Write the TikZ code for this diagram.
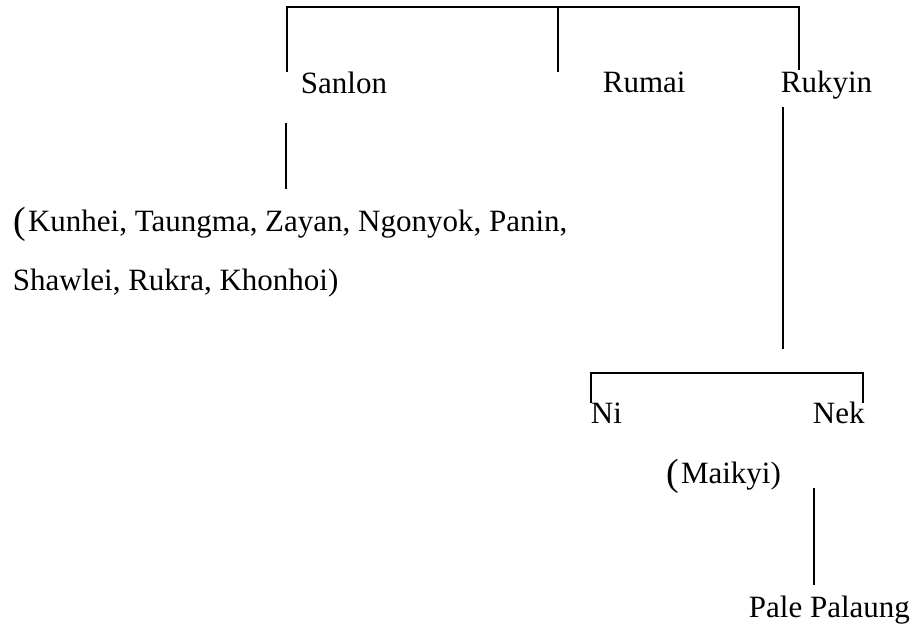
\documentclass[tikz,border=0pt]{standalone}
\usepackage{fontspec}
\setmainfont{Liberation Serif}
\newcommand{\bigparen}{{\fontsize{38}{38}\selectfont\raisebox{-2pt}{(}}\hspace{1.5pt}}
\begin{document}
\begin{tikzpicture}[x=1pt,y=-1pt,line width=1.8pt,
    lang/.style={anchor=base west,inner sep=0pt,font=\fontsize{31}{37}\selectfont}]
    \useasboundingbox (0,0) rectangle (914,630);

    % top level
    \node[lang] (sanlon) at (300,93) {Sanlon};
    \node[lang] (rumai) at (602,92) {Rumai};
    \node[lang] (rukyin) at (780,92) {Rukyin};
    \coordinate (sanlontop) at (287,72);
    \coordinate (rumaitop) at (558,72);
    \coordinate (rukyintop) at (799,70);
    \draw (sanlontop) -- (sanlontop |- 0,7) -- (rukyintop |- 0,7) -- (rukyintop);
    \draw (rumaitop) -- (rumaitop |- 0,7);

    % Sanlon group
    \node[lang] (kunhei) at (13,231) {\bigparen Kunhei, Taungma, Zayan, Ngonyok, Panin,};
    \node[lang] (shawlei) at (12,290) {Shawlei, Rukra, Khonhoi)};
    \coordinate (sanlonbot) at (286,123);
    \coordinate (kunheitop) at (286,189);
    \draw (sanlonbot) -- (kunheitop);

    % Rukyin group
    \coordinate (rukyinbot) at (783,107);
    \coordinate (nibar) at (783,349);
    \draw (rukyinbot) -- (nibar);
    \node[lang] (ni) at (590,423) {Ni};
    \node[lang] (nek) at (812,423) {Nek};
    \coordinate (nitop) at (591,403);
    \coordinate (nektop) at (863,403);
    \draw (nitop) -- (nitop |- 0,373) -- (nektop |- 0,373) -- (nektop);

    \node[lang] (maikyi) at (666,483) {\bigparen Maikyi)};
    \node[lang] (pale) at (748,617) {Pale Palaung};
    \coordinate (nekbot) at (814,488);
    \coordinate (paletop) at (814,585);
    \draw (nekbot) -- (paletop);
\end{tikzpicture}
\end{document}
